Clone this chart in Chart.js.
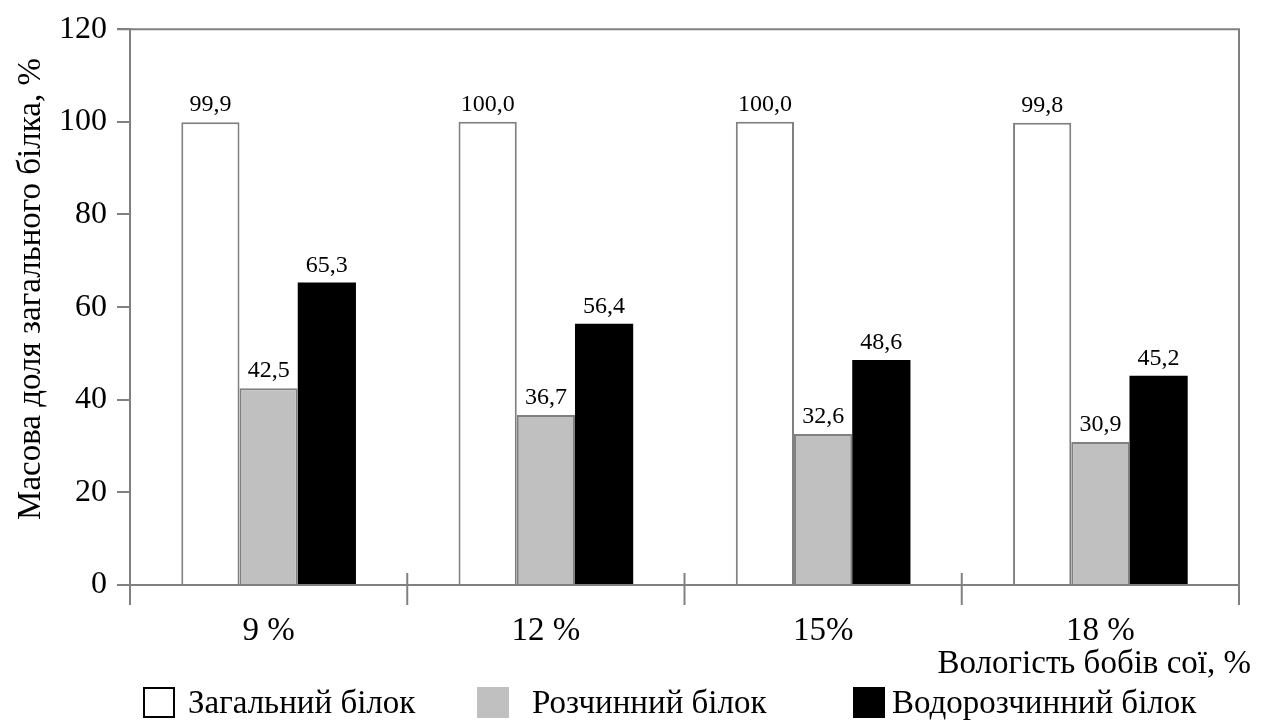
<!DOCTYPE html>
<html><head><meta charset="utf-8">
<script src="https://cdn.jsdelivr.net/npm/chart.js@4.4.1/dist/chart.umd.min.js"></script>
<style>html,body{margin:0;padding:0;background:#fff;}canvas{display:block;}</style>
</head><body>
<canvas id="c" width="1269" height="722"></canvas>
<script>
const categories = ['9 %', '12 %', '15%', '18 %'];
const totalProtein = [99.9, 100.0, 100.0, 99.8];
const solubleProtein = [42.5, 36.7, 32.6, 30.9];
const waterSolubleProtein = [65.3, 56.4, 48.6, 45.2];
const seriesNames = ['Загальний білок', 'Розчинний білок', 'Водорозчинний білок'];
const yTicks = [0, 20, 40, 60, 80, 100, 120];
const yTitle = 'Масова доля загального білка, %';
const xTitle = 'Вологість бобів сої, %';

const FONT = '"Liberation Serif", "Times New Roman", serif';
const AXIS = '#808080';

const framePlugin = {
  id: 'frame',
  afterDatasetsDraw(chart) {
    const ctx = chart.ctx, a = chart.chartArea;
    ctx.save();
    // data labels
    ctx.font = '24px ' + FONT;
    ctx.textAlign = 'center';
    ctx.textBaseline = 'alphabetic';
    chart.data.datasets.forEach((ds, di) => {
      const meta = chart.getDatasetMeta(di);
      meta.data.forEach((bar, i) => {
        const txt = ds.data[i].toFixed(1).replace('.', ',');
        const w = ctx.measureText(txt).width;
        const yb = bar.y - 11;
        ctx.fillStyle = '#fff';
        ctx.fillRect(bar.x - w / 2 - 3, yb - 22, w + 6, bar.y - 1 - (yb - 22));
        ctx.fillStyle = '#000';
        ctx.fillText(txt, bar.x, yb);
      });
    });
    // frame
    ctx.strokeStyle = AXIS;
    ctx.lineWidth = 2;
    ctx.beginPath();
    ctx.moveTo(a.left - 13, a.top);
    ctx.lineTo(a.right, a.top);
    ctx.lineTo(a.right, a.bottom + 20);
    ctx.stroke();
    // x ticks at category boundaries
    const n = categories.length, cw = (a.right - a.left) / n;
    for (let i = 0; i < n; i++) {
      const x = a.left + i * cw;
      ctx.beginPath();
      ctx.moveTo(x, i === 0 ? a.bottom : a.bottom - 12);
      ctx.lineTo(x, a.bottom + 20);
      ctx.stroke();
    }
    // titles
    ctx.fillStyle = '#000';
    ctx.font = '33px ' + FONT;
    ctx.save();
    ctx.translate(31, 289);
    ctx.rotate(-Math.PI / 2);
    ctx.textAlign = 'center';
    ctx.textBaseline = 'middle';
    ctx.fillText(yTitle, 0, 0);
    ctx.restore();
    ctx.textAlign = 'right';
    ctx.textBaseline = 'middle';
    ctx.fillText(xTitle, 1251, 664);
    // legend
    const boxX = [143, 477, 853];
    const textX = [188, 532, 892];
    ctx.textAlign = 'left';
    chart.data.datasets.forEach((ds, di) => {
      ctx.fillStyle = ds.backgroundColor;
      ctx.fillRect(boxX[di], 687, 32, 31);
      if (di === 0) {
        ctx.strokeStyle = '#000';
        ctx.lineWidth = 2;
        ctx.strokeRect(boxX[di] + 1, 688, 30, 29);
      }
      ctx.fillStyle = '#000';
      ctx.fillText(ds.label, textX[di], 704);
    });
    ctx.restore();
  }
};

new Chart(document.getElementById('c'), {
  type: 'bar',
  data: {
    labels: categories,
    datasets: [
      { label: seriesNames[0], data: totalProtein, backgroundColor: '#ffffff', borderColor: AXIS, borderWidth: 2 },
      { label: seriesNames[1], data: solubleProtein, backgroundColor: '#c0c0c0', borderColor: AXIS, borderWidth: 2 },
      { label: seriesNames[2], data: waterSolubleProtein, backgroundColor: '#000000', borderColor: '#000000', borderWidth: 0 }
    ]
  },
  options: {
    responsive: false,
    animation: false,
    devicePixelRatio: 1,
    layout: { padding: { top: 26, right: 30, left: 0, bottom: 0 } },
    datasets: { bar: { categoryPercentage: 0.63, barPercentage: 1.0 } },
    plugins: { legend: { display: false }, tooltip: { enabled: false } },
    scales: {
      x: {
        grid: { display: false },
        border: { display: true, color: AXIS, width: 2 },
        ticks: { color: '#000', font: { family: FONT, size: 33 }, padding: 19, maxRotation: 0 },
        afterFit(s) { s.height = 137; }
      },
      y: {
        min: 0, max: 120,
        afterBuildTicks(s) { s.ticks = yTicks.map(v => ({ value: v })); },
        grid: { drawOnChartArea: false, drawTicks: true, tickLength: 13, color: AXIS, lineWidth: 2 },
        border: { display: true, color: AXIS, width: 2 },
        ticks: { color: '#000', font: { family: FONT, size: 32 }, padding: 10 },
        afterFit(s) { s.width = 130; }
      }
    }
  },
  plugins: [framePlugin]
});
</script>
</body></html>
